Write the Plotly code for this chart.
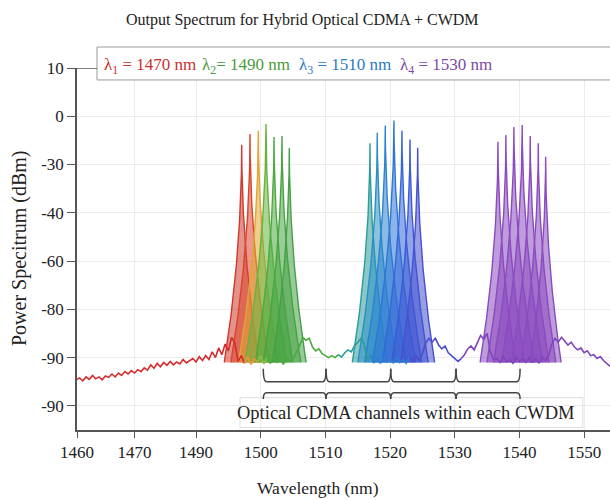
import numpy as np
import plotly.graph_objects as go

# ---------------- data ----------------
x_tick_vals = [1471.6, 1480.5, 1490, 1500, 1510, 1520, 1530, 1540, 1550]
x_tick_text = ["1460", "1470", "1490", "1500", "1510", "1520", "1530", "1540", "1550"]
y_tick_vals = [10, 0, -10, -20, -30, -40, -50, -60]
y_tick_text = ["10", "0", "-30", "-40", "-60", "-80", "-90", "-90"]

# CDMA peaks inside each CWDM band (centre, peak level)
g1_centers = [1497.06, 1498.35, 1499.63, 1500.82, 1502.06, 1503.29, 1504.42]
g1_heights = [-5.9, -3.7, -3.0, -1.6, -4.3, -4.1, -6.6]
g2_centers = [1516.89, 1518.02, 1519.26, 1520.60, 1521.84, 1523.08, 1524.27]
g2_heights = [-5.6, -3.4, -1.9, -0.9, -3.0, -4.8, -6.5]
g3_centers = [1536.68, 1537.91, 1539.15, 1540.43, 1541.67, 1542.91, 1544.05]
g3_heights = [-5.3, -3.9, -2.2, -1.8, -4.1, -5.6, -8.4]

# noise floor, read every 0.5 nm from 1471.5 to 1554.0
floor_start = 1471.5
floor_step = 0.5
floor_vals = [
    -54.6, -54.2, -54.8, -54.0, -54.5, -53.7, -54.4, -54.0, -54.6, -53.8,
    -54.1, -53.4, -54.0, -53.2, -53.7, -52.9, -53.4, -52.7, -53.2, -52.5,
    -52.9, -52.1, -52.6, -51.5, -52.2, -51.2, -51.9, -51.0, -51.6, -50.8,
    -51.5, -50.9, -51.3, -50.4, -51.1, -50.6, -50.2, -50.9, -49.8, -50.6,
    -49.6, -50.4, -48.8, -50.0, -48.0, -49.4, -47.2, -48.6, -45.8, -47.0,
    -50.8, -49.6, -51.2, -49.8, -51.4, -50.2, -51.0, -49.6, -51.3, -50.0,
    -51.2, -49.8, -51.0, -50.2, -51.4, -49.9, -50.8, -50.3, -49.0, -47.6,
    -45.8, -46.4, -46.0, -47.8, -48.6, -48.2, -49.2, -49.6, -50.0, -49.6,
    -50.0, -49.4, -49.9, -49.0, -48.4, -48.8, -47.6, -46.8, -46.0, -47.2,
    -50.6, -49.5, -51.0, -50.2, -51.2, -49.8, -50.9, -50.3, -51.1, -50.0,
    -51.0, -50.4, -51.2, -49.8, -50.8, -49.6, -50.6, -49.2, -47.0, -46.0,
    -46.8, -46.0, -47.4, -48.2, -47.6, -49.0, -49.6, -50.2, -50.8, -50.2,
    -49.4, -48.2, -47.6, -48.4, -46.8, -45.4, -46.2, -45.0, -48.8, -50.4,
    -50.2, -51.0, -49.8, -50.9, -50.4, -51.2, -49.9, -50.8, -50.2, -51.0,
    -50.0, -50.9, -50.3, -51.1, -49.8, -50.6, -49.6, -47.2, -46.0, -46.8,
    -45.8, -46.6, -47.4, -46.8, -47.8, -48.4, -48.0, -49.0, -48.6, -49.6,
    -49.4, -50.2, -49.8, -50.6, -51.2, -51.8,
]

legend_labels = ["λ<sub>1</sub> = 1470 nm", "λ<sub>2</sub>= 1490 nm",
                 "λ<sub>3</sub> = 1510 nm", "λ<sub>4</sub> = 1530 nm"]
bracket_edges = [1500.4, 1510.1, 1520.1, 1530.2, 1540.1]

# ---------------- style ----------------
FONT = "Liberation Serif"
peak_base = -51.0
skirt_k = 27.5

g1_lines = ["#d0382c", "#d8452e", "#e2a534", "#66b43e", "#4caa40", "#48a443", "#44a046"]
g2_lines = ["#2a9d9a", "#2b8fc2", "#2c83d0", "#2e76d6", "#3468d8", "#3c5ad6", "#4650d0"]
g3_lines = ["#8a4bc0"] * 7


def rgba(hexc, a):
    h = hexc.lstrip("#")
    return "rgba(%d,%d,%d,%.2f)" % (int(h[0:2], 16), int(h[2:4], 16), int(h[4:6], 16), a)


fig = go.Figure()

for centers, heights, colors in [(g1_centers, g1_heights, g1_lines),
                                 (g2_centers, g2_heights, g2_lines),
                                 (g3_centers, g3_heights, g3_lines)]:
    for c, h, col in zip(centers, heights, colors):
        dmax = ((h - peak_base) / skirt_k) ** 2
        t = np.linspace(-1, 1, 161)
        d = np.sign(t) * t ** 2 * dmax
        y = np.maximum(h - skirt_k * np.sqrt(np.abs(d)), peak_base)
        fig.add_trace(go.Scatter(x=c + d, y=y, mode="lines", fill="toself",
                                 fillcolor=rgba(col, 0.55),
                                 line=dict(color=col, width=1.4),
                                 hoverinfo="skip", showlegend=False))

# noise floor, coloured in bands
fx = floor_start + floor_step * np.arange(len(floor_vals))
fy = np.array(floor_vals)
floor_bands = [(1471.5, 1497.5, "#d22d2d"), (1497.5, 1499.5, "#e09a30"),
               (1499.5, 1501.0, "#8cc040"), (1501.0, 1512.0, "#4caa40"),
               (1512.0, 1517.0, "#2a9d9a"), (1517.0, 1523.0, "#2f7fd0"),
               (1523.0, 1531.0, "#4a4ccc"), (1531.0, 1554.0, "#7f45bb")]
for a, b, col in floor_bands:
    m = (fx >= a - 1e-9) & (fx <= b + 1e-9)
    fig.add_trace(go.Scatter(x=fx[m], y=fy[m], mode="lines",
                             line=dict(color=col, width=1.6),
                             hoverinfo="skip", showlegend=False))

# ---------------- shapes ----------------
shapes = []
shapes.append(dict(type="rect", xref="paper", yref="paper", x0=0.0375, x1=1.05,
                   y0=0.967, y1=1.058, fillcolor="white",
                   line=dict(color="#9a9a9a", width=1), layer="above"))
shapes.append(dict(type="line", xref="x", yref="y", x0=1471.6, x1=1474.7, y0=10, y1=10,
                   line=dict(color="#555", width=1.5), layer="above"))
shapes.append(dict(type="rect", xref="x", yref="y", x0=1496.8, x1=1549.8, y0=-64.5, y1=-58.3,
                   fillcolor="rgba(0,0,0,0)", line=dict(color="#dddddd", width=1)))
for a, b in zip(bracket_edges[:-1], bracket_edges[1:]):
    up = "M %f,-52.3 Q %f,-55 %f,-55 L %f,-55 Q %f,-55 %f,-52.3" % (a, a, a + 0.5, b - 0.5, b, b)
    lo = "M %f,-58.6 Q %f,-57.3 %f,-57.3 L %f,-57.3 Q %f,-57.3 %f,-58.6" % (a, a, a + 0.5, b - 0.5, b, b)
    for p in (up, lo):
        shapes.append(dict(type="path", xref="x", yref="y", path=p,
                           line=dict(color="#444", width=1.5)))

# ---------------- annotations ----------------
ann = []
ann.append(dict(text="Output Spectrum for Hybrid Optical CDMA + CWDM", xref="paper", yref="paper",
                x=0.423, y=1.1326, showarrow=False, xanchor="center", yanchor="middle",
                font=dict(family=FONT, size=16, color="#222")))
leg_cols = ["#c8312c", "#4a9a3c", "#2a7cc4", "#7b4aa8"]
leg_x = [0.0469, 0.2308, 0.4128, 0.6023]
for txt, col, xx in zip(legend_labels, leg_cols, leg_x):
    ann.append(dict(text=txt, xref="paper", yref="paper", x=xx, y=1.0055, showarrow=False,
                    xanchor="left", yanchor="middle", font=dict(family=FONT, size=17, color=col)))
ann.append(dict(text="Power Specitrum (dBm)", xref="paper", yref="paper", x=-0.1069, y=0.5028,
                textangle=-90, showarrow=False, xanchor="center", yanchor="middle",
                font=dict(family=FONT, size=20, color="#222")))
ann.append(dict(text="Wavelength (nm)", xref="paper", yref="paper", x=0.452, y=-0.160,
                showarrow=False, xanchor="center", yanchor="middle",
                font=dict(family=FONT, size=17.5, color="#222")))
ann.append(dict(text="Optical CDMA channels within each CWDM", xref="x", yref="y",
                x=1522.5, y=-61.4, showarrow=False, xanchor="center", yanchor="middle",
                font=dict(family=FONT, size=18.5, color="#222")))

fig.update_layout(
    width=610, height=500,
    margin=dict(l=77, r=0, t=68, b=70),
    paper_bgcolor="white", plot_bgcolor="white",
    showlegend=False,
    shapes=shapes, annotations=ann,
    xaxis=dict(range=[1471.6, 1554.0], tickmode="array", tickvals=x_tick_vals, ticktext=x_tick_text,
               showline=True, linecolor="#555", linewidth=1.5, ticks="outside", ticklen=6,
               tickcolor="#555", showgrid=True, gridcolor="#ececec", zeroline=False,
               tickfont=dict(family=FONT, size=17, color="#222")),
    yaxis=dict(range=[-65, 10], tickmode="array", tickvals=y_tick_vals, ticktext=y_tick_text,
               showline=True, linecolor="#555", linewidth=1.5, ticks="outside", ticklen=8,
               tickcolor="#555", showgrid=True, gridcolor="#ececec", zeroline=False,
               tickfont=dict(family=FONT, size=17, color="#222")),
)

fig.write_html("out.html")
